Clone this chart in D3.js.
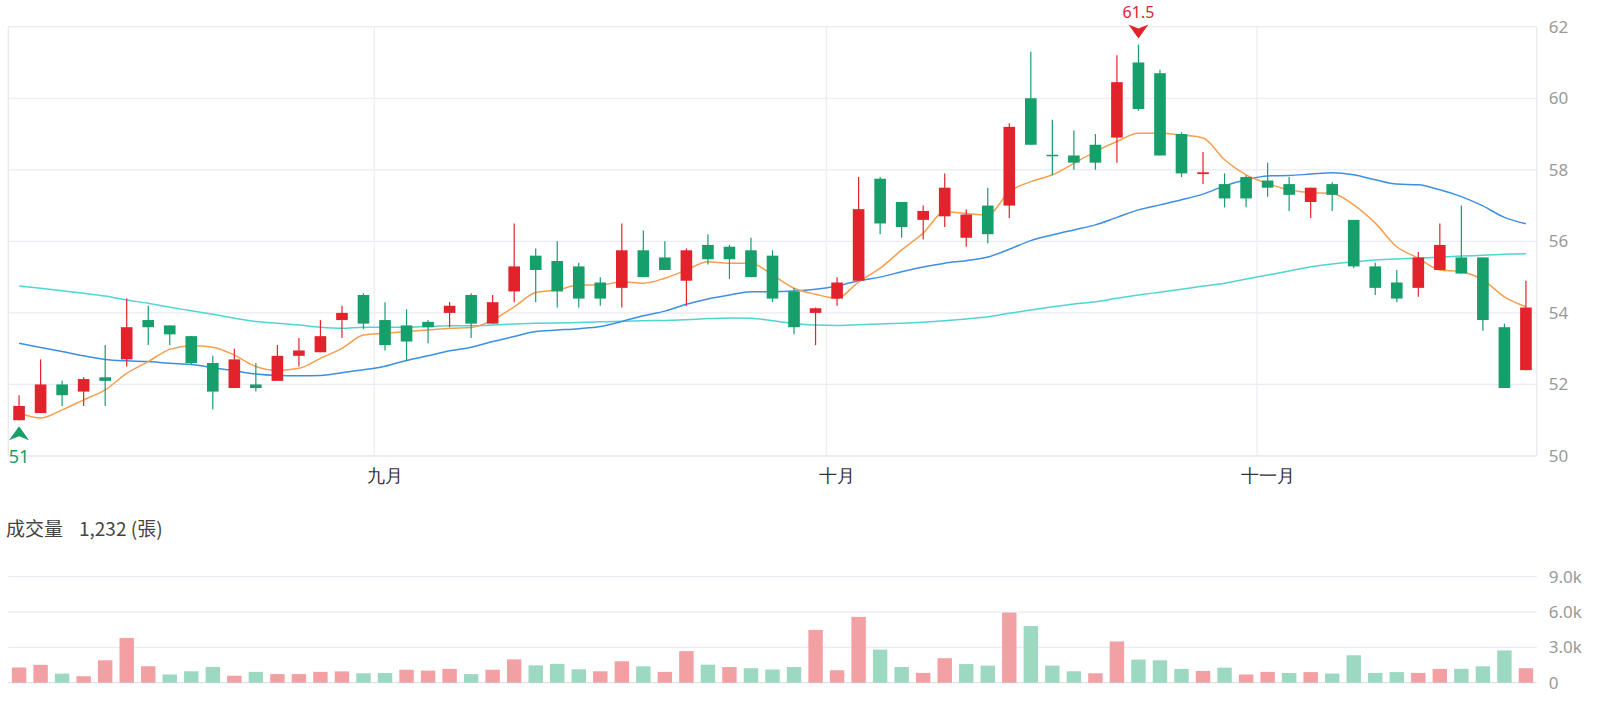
<!DOCTYPE html>
<html><head><meta charset="utf-8">
<script src="https://cdn.jsdelivr.net/npm/d3@7"></script>
<style>
body{margin:0;background:#fff;}
svg{display:block;font-family:"Noto Sans CJK TC","Noto Sans",sans-serif;}
</style>
</head><body>
<svg id="chart" width="1600" height="702"></svg>
<script>
// ---- data ----
const openP  = [51.0,51.2,52.0,51.8,52.2,52.7,53.8,53.65,53.35,52.6,51.9,52.0,52.1,52.8,52.9,53.8,54.5,53.8,53.65,53.75,54.0,54.5,53.7,54.6,55.6,55.45,55.3,54.85,54.7,55.75,55.55,54.9,55.9,55.85,55.75,55.6,54.6,54.0,54.4,54.9,57.75,57.1,56.6,56.7,56.1,57.0,57.0,60.0,58.42,58.4,58.7,58.9,61.0,60.7,59.0,57.88,57.6,57.8,57.7,57.6,57.1,57.6,56.6,55.3,54.85,54.7,55.2,55.55,55.55,53.6,52.4];
const highP  = [51.7,52.7,52.1,52.2,53.1,54.4,54.2,53.65,53.35,52.8,53.0,52.6,53.1,53.3,53.8,54.2,54.55,54.3,54.1,53.8,54.3,54.55,54.5,56.5,55.8,56.0,55.4,55.0,56.5,56.3,56.0,55.8,56.2,55.9,56.1,55.75,54.7,54.15,55.0,57.8,57.8,57.1,57.0,57.9,56.9,57.5,59.3,61.3,59.4,59.1,59.0,61.2,61.5,60.8,59.05,58.5,57.9,57.85,58.2,57.8,57.5,57.65,56.6,55.4,55.2,55.7,56.5,57.0,55.55,53.7,54.9];
const lowP   = [51.0,51.2,51.4,51.4,51.4,52.5,53.1,53.1,52.55,51.3,51.9,51.8,52.1,52.5,52.9,53.3,53.55,52.95,52.65,53.15,53.6,53.3,53.7,54.3,54.3,54.15,54.15,54.2,54.15,55.0,55.2,54.2,55.35,54.95,55.0,54.3,53.4,53.1,54.2,54.9,56.2,56.1,56.05,56.4,55.85,55.95,56.65,58.7,57.85,58.0,58.0,58.2,59.65,58.4,57.8,57.6,56.95,56.95,57.25,56.85,56.65,56.85,55.25,54.5,54.3,54.45,55.2,55.1,53.5,51.9,52.4];
const closeP = [51.4,52.0,51.7,52.15,52.1,53.6,53.6,53.4,52.6,51.8,52.7,51.9,52.8,52.95,53.35,54.0,53.7,53.1,53.2,53.6,54.2,53.7,54.3,55.3,55.2,54.6,54.4,54.4,55.75,55.0,55.2,55.75,55.5,55.5,55.0,54.4,53.6,54.13,54.85,56.9,56.5,56.4,56.85,57.5,56.75,56.2,59.2,58.7,58.38,58.2,58.2,60.45,59.7,58.4,57.9,57.93,57.2,57.2,57.5,57.3,57.5,57.3,55.3,54.7,54.4,55.55,55.9,55.1,53.8,51.9,54.15];
const volume = [1290,1520,770,550,1900,3800,1400,700,970,1340,590,920,730,730,920,960,800,820,1100,1030,1170,730,1100,1980,1470,1600,1140,970,1820,1390,920,2680,1530,1330,1230,1120,1330,4480,1060,5590,2810,1330,830,2080,1580,1450,5950,4810,1450,970,800,3500,1960,1900,1170,1000,1280,700,920,830,900,780,2330,830,900,830,1170,1180,1390,2740,1232];
const volumeUp = [1,1,0,1,1,1,1,0,0,0,1,0,1,1,1,1,0,0,1,1,1,0,1,1,0,0,0,1,1,0,1,1,0,1,0,0,0,1,1,1,0,0,1,1,0,0,1,0,0,0,1,1,0,0,0,1,0,1,1,0,1,0,0,0,0,1,1,0,0,0,1];
const ma5  = [51.20,51.06,51.29,51.57,51.85,52.31,52.64,52.98,53.08,53.04,52.82,52.50,52.39,52.45,52.73,53.01,53.38,53.43,53.48,53.52,53.57,53.59,53.80,54.17,54.57,54.64,54.78,54.78,54.87,54.83,54.97,55.20,55.43,55.39,55.39,55.06,54.69,54.52,54.41,54.87,55.25,55.76,56.23,56.83,56.78,56.74,57.39,57.67,57.86,58.18,58.51,58.79,59.02,59.02,58.97,58.89,58.28,57.86,57.62,57.44,57.36,57.34,57.02,56.51,55.85,55.53,55.20,55.15,54.92,54.45,54.17];
const ma20 = [53.15,53.03,52.92,52.80,52.70,52.66,52.64,52.59,52.56,52.47,52.38,52.29,52.25,52.24,52.25,52.33,52.41,52.51,52.67,52.80,52.94,53.04,53.20,53.34,53.48,53.52,53.56,53.62,53.76,53.92,54.05,54.24,54.39,54.50,54.59,54.59,54.61,54.66,54.75,54.90,55.00,55.15,55.28,55.39,55.46,55.56,55.78,56.02,56.18,56.32,56.46,56.67,56.88,57.02,57.16,57.32,57.55,57.72,57.83,57.84,57.88,57.92,57.86,57.72,57.60,57.58,57.44,57.25,56.99,56.67,56.49];
const ma60 = [54.75,54.69,54.62,54.55,54.47,54.36,54.27,54.16,54.06,53.96,53.85,53.76,53.71,53.66,53.60,53.57,53.60,53.60,53.60,53.62,53.64,53.64,53.66,53.69,53.71,53.72,53.73,53.75,53.77,53.78,53.79,53.81,53.84,53.86,53.85,53.78,53.71,53.66,53.65,53.67,53.69,53.71,53.74,53.78,53.83,53.89,53.99,54.08,54.17,54.25,54.31,54.41,54.50,54.58,54.66,54.75,54.83,54.95,55.06,55.17,55.29,55.37,55.43,55.48,55.51,55.53,55.56,55.59,55.61,55.64,55.65];
const priceTicks = [50,52,54,56,58,60,62];
const volTicks = [0,3000,6000,9000];
const volTickLabels = ["0","3.0k","6.0k","9.0k"];
const monthLabels = ["九月","十月","十一月"];
const monthStartIndex = [17,38,58];
const volumeTitle = "成交量";
const volumeValueLabel = "1,232 (張)";

// ---- styles ----
const UP = "#e3232c", DOWN = "#169e6b";
const UP_VOL = "#f3a0a4", DOWN_VOL = "#9dd8c1";
const C_MA5 = "#f5a04f", C_MA20 = "#3d8fe3", C_MA60 = "#4fd6d2";
const GRID = "#e8ebf2";

const n = closeP.length;
const svg = d3.select("#chart");
const left = 8.3, right = 1536.7;

const x = d3.scaleBand().domain(d3.range(n)).range([left, right]).padding(0);
const cx = i => x(i) + x.bandwidth() / 2;
const y = d3.scaleLinear().domain([50, 62]).range([456, 26.7]);
const yv = d3.scaleLinear().domain([0, 9000]).range([682.7, 576.7]);

// grid: price
const g = svg.append("g");
g.selectAll(".hg").data(priceTicks).join("line")
  .attr("x1", left).attr("x2", right)
  .attr("y1", d => y(d)).attr("y2", d => y(d))
  .attr("stroke", d => d === 50 ? "#d8dce6" : GRID).attr("stroke-width", 1.2);
g.selectAll(".vg").data(monthStartIndex).join("line")
  .attr("x1", d => x(d)).attr("x2", d => x(d))
  .attr("y1", y(62)).attr("y2", y(50))
  .attr("stroke", "#eceef3").attr("stroke-width", 1.2);
g.append("line").attr("x1", left).attr("x2", left).attr("y1", y(62)).attr("y2", y(50))
  .attr("stroke", "#e6e8ee").attr("stroke-width", 1.2);
g.append("line").attr("x1", right).attr("x2", right).attr("y1", y(62)).attr("y2", y(50))
  .attr("stroke", "#e6e8ee").attr("stroke-width", 1.2);

// grid: volume
g.selectAll(".vhg").data(volTicks).join("line")
  .attr("x1", left).attr("x2", right)
  .attr("y1", d => yv(d)).attr("y2", d => yv(d))
  .attr("stroke", d => d === 0 ? "#dde1ea" : GRID).attr("stroke-width", 1.2);

// axes
const yAxis = d3.axisRight(y).tickValues(priceTicks).tickSize(0).tickPadding(12).tickFormat(d3.format("d"));
const ya = svg.append("g").attr("transform", `translate(${right},0)`).call(yAxis);
ya.select(".domain").remove();
ya.selectAll("text").attr("fill", "#9a9a9a").style("font-size", "17px").style("font-family", "'Noto Sans',sans-serif");

const vAxis = d3.axisRight(yv).tickValues(volTicks).tickSize(0).tickPadding(12).tickFormat((d, i) => volTickLabels[i]);
const va = svg.append("g").attr("transform", `translate(${right},0)`).call(vAxis);
va.select(".domain").remove();
va.selectAll("text").attr("fill", "#9a9a9a").style("font-size", "17px").style("font-family", "'Noto Sans',sans-serif");

// month labels
const xAxis = d3.axisBottom(x).tickValues(monthStartIndex).tickSize(0).tickPadding(10)
  .tickFormat((d, i) => monthLabels[i]);
const xa = svg.append("g").attr("transform", `translate(0,${y(50)})`).call(xAxis);
xa.select(".domain").remove();
xa.selectAll("text").attr("fill", "#333").style("font-size", "18px").attr("dy", "0.9em");

// moving averages
const line = arr => d3.line().x((d, i) => cx(i)).y(d => y(d)).curve(d3.curveMonotoneX)(arr);
[[ma60, C_MA60], [ma20, C_MA20], [ma5, C_MA5]].forEach(([arr, col]) => {
  svg.append("path").attr("d", line(arr)).attr("fill", "none").attr("stroke", col).attr("stroke-width", 1.5);
});

// candles
const bw = x.bandwidth() * 0.54;
const candles = svg.append("g").selectAll("g").data(d3.range(n)).join("g");
candles.append("line")
  .attr("x1", cx).attr("x2", cx)
  .attr("y1", i => y(highP[i])).attr("y2", i => y(lowP[i]))
  .attr("stroke", i => closeP[i] > openP[i] ? UP : DOWN).attr("stroke-width", 1.2);
candles.append("rect")
  .attr("x", i => cx(i) - bw / 2).attr("width", bw)
  .attr("y", i => y(Math.max(openP[i], closeP[i])))
  .attr("height", i => Math.max(1.5, Math.abs(y(openP[i]) - y(closeP[i]))))
  .attr("fill", i => closeP[i] > openP[i] ? UP : DOWN);

// volume bars
const vw = x.bandwidth() * 0.67;
svg.append("g").selectAll("rect").data(volume).join("rect")
  .attr("x", (d, i) => cx(i) - vw / 2).attr("width", vw)
  .attr("y", d => yv(d)).attr("height", d => yv(0) - yv(d))
  .attr("fill", (d, i) => volumeUp[i] ? UP_VOL : DOWN_VOL);

// high / low markers
const hiIdx = d3.maxIndex(highP), loIdx = d3.minIndex(lowP);
const hx = cx(hiIdx), hy = y(highP[hiIdx]) - 6;
svg.append("path").attr("d", `M${hx},${hy} L${hx - 10},${hy - 14} L${hx},${hy - 10} L${hx + 10},${hy - 14} Z`).attr("fill", UP);
svg.append("text").attr("x", hx).attr("y", hy - 20.5).attr("text-anchor", "middle")
  .attr("fill", UP).style("font-size", "16px").style("font-family", "'Noto Sans',sans-serif").text(d3.format(".1f")(highP[hiIdx]));
const lx = cx(loIdx), ly = y(lowP[loIdx]) + 6;
svg.append("path").attr("d", `M${lx},${ly} L${lx - 10},${ly + 14} L${lx},${ly + 10} L${lx + 10},${ly + 14} Z`).attr("fill", DOWN);
svg.append("text").attr("x", lx).attr("y", ly + 37).attr("text-anchor", "middle")
  .attr("fill", DOWN).style("font-size", "18px").style("font-family", "'Noto Sans',sans-serif").text(d3.format("d")(lowP[loIdx]));

// volume title
svg.append("text").attr("x", 6).attr("y", 536).attr("fill", "#444").style("font-size", "19px").text(volumeTitle);
svg.append("text").attr("x", 79).attr("y", 536).attr("fill", "#444").style("font-size", "19px").text(volumeValueLabel);
</script>
</body></html>
